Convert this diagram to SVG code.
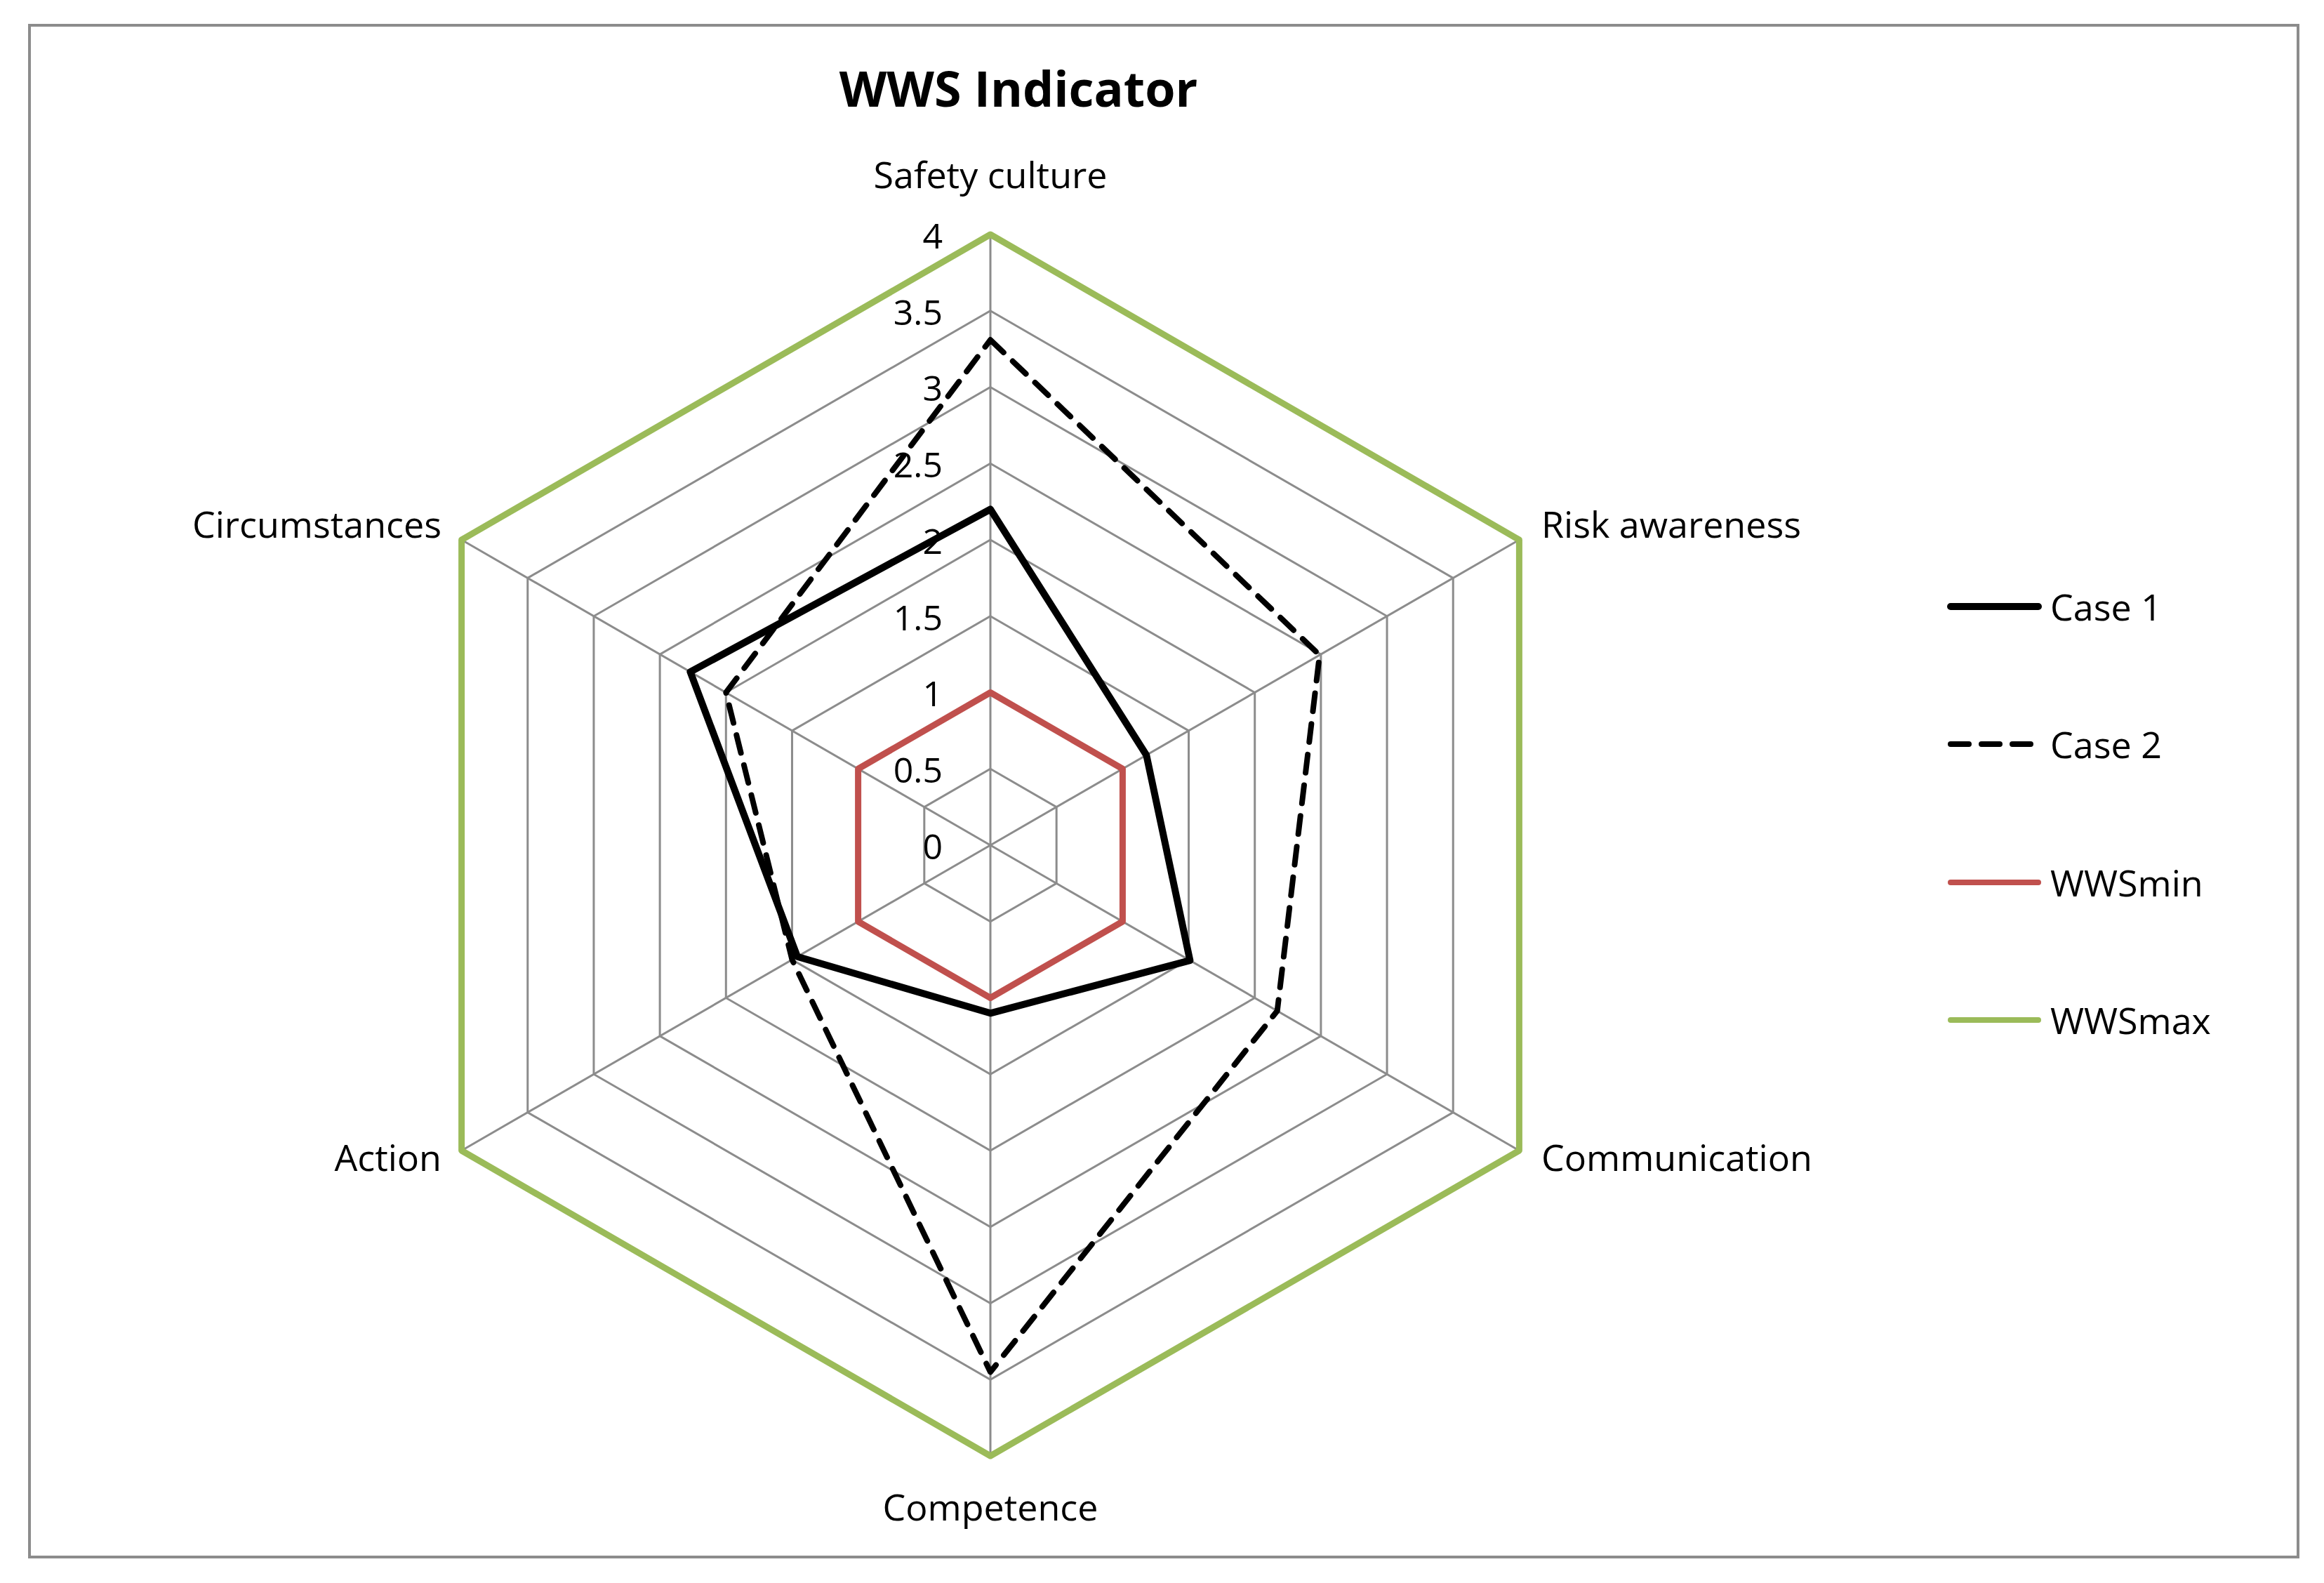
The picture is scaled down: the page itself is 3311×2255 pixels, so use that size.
<svg xmlns="http://www.w3.org/2000/svg" xmlns:xlink="http://www.w3.org/1999/xlink" width="3311" height="2255" viewBox="0 0 3311 2255">
<style>
text{font-family:"Open Sans","Liberation Sans",sans-serif;fill:#000}
.ax{font-size:52px}
.tk{font-size:50px;text-anchor:end}
.lg{font-size:52px}
.grid{fill:none;stroke:#8c8c8c;stroke-width:3}
.ser{fill:none;stroke-linejoin:round;stroke-linecap:round}
</style>
<defs>
<polygon id="hex" points="0,-1 0.866,-0.5 0.866,0.5 0,1 -0.866,0.5 -0.866,-0.5" vector-effect="non-scaling-stroke" class="grid"/>
</defs>
<rect x="42" y="36" width="3232" height="2182" fill="#fff" stroke="#8c8c8c" stroke-width="4"/>
<text x="1451" y="152" font-size="70" font-weight="bold" text-anchor="middle">WWS Indicator</text>
<g id="grid" transform="translate(1411,1204)">
<use xlink:href="#hex" transform="scale(108.75)"/>
<use xlink:href="#hex" transform="scale(217.5)"/>
<use xlink:href="#hex" transform="scale(326.25)"/>
<use xlink:href="#hex" transform="scale(435)"/>
<use xlink:href="#hex" transform="scale(543.75)"/>
<use xlink:href="#hex" transform="scale(652.5)"/>
<use xlink:href="#hex" transform="scale(761.25)"/>
<g stroke="#8c8c8c" stroke-width="3">
<line x1="0" y1="0" x2="0" y2="-870"/><line x1="0" y1="0" x2="753.4" y2="-435"/><line x1="0" y1="0" x2="753.4" y2="435"/>
<line x1="0" y1="0" x2="0" y2="870"/><line x1="0" y1="0" x2="-753.4" y2="435"/><line x1="0" y1="0" x2="-753.4" y2="-435"/>
</g>
</g>
<g id="ticks">
<text class="tk" x="1343" y="1224">0</text>
<text class="tk" x="1343" y="1115">0.5</text>
<text class="tk" x="1343" y="1006">1</text>
<text class="tk" x="1343" y="898">1.5</text>
<text class="tk" x="1343" y="789">2</text>
<text class="tk" x="1343" y="680">2.5</text>
<text class="tk" x="1343" y="571">3</text>
<text class="tk" x="1343" y="463">3.5</text>
<text class="tk" x="1343" y="354">4</text>
</g>
<g id="axis-labels">
<text class="ax" x="1411" y="268" text-anchor="middle">Safety culture</text>
<text class="ax" x="2196" y="766">Risk awareness</text>
<text class="ax" x="2196" y="1668">Communication</text>
<text class="ax" x="1411" y="2166" text-anchor="middle">Competence</text>
<text class="ax" x="629" y="1668" text-anchor="end">Action</text>
<text class="ax" x="629" y="766" text-anchor="end">Circumstances</text>
</g>
<g id="series" transform="translate(1411,1204)">
<polygon id="wwsmax" class="ser" stroke="#9BBB59" stroke-width="9" points="0,-870 753.4,-435 753.4,435 0,870 -753.4,435 -753.4,-435"/>
<polygon id="wwsmin" class="ser" stroke="#C0504D" stroke-width="9" points="0,-217.5 188.4,-108.75 188.4,108.75 0,217.5 -188.4,108.75 -188.4,-108.75"/>
<polygon id="case1" class="ser" stroke="#000" stroke-width="10" points="0,-478.5 222.3,-128.3 284.4,164.2 0,239.3 -275,158.8 -427.6,-246.9"/>
<polygon id="case2" class="ser" stroke="#000" stroke-width="8" stroke-dasharray="26 18" stroke-linecap="butt" points="0,-719.9 469,-270.8 408.7,236 0,750.4 -282.5,163.1 -376.7,-217.5"/>
</g>
<g id="legend">
<line x1="2779" y1="864" x2="2904" y2="864" stroke="#000" stroke-width="10" stroke-linecap="round"/>
<text class="lg" x="2921" y="884">Case 1</text>
<line x1="2779" y1="1060" x2="2904" y2="1060" stroke="#000" stroke-width="8" stroke-dasharray="26 18" stroke-linecap="round"/>
<text class="lg" x="2921" y="1080">Case 2</text>
<line x1="2779" y1="1257" x2="2904" y2="1257" stroke="#C0504D" stroke-width="8" stroke-linecap="round"/>
<text class="lg" x="2921" y="1277">WWSmin</text>
<line x1="2779" y1="1453" x2="2904" y2="1453" stroke="#9BBB59" stroke-width="8" stroke-linecap="round"/>
<text class="lg" x="2921" y="1473">WWSmax</text>
</g>
</svg>
